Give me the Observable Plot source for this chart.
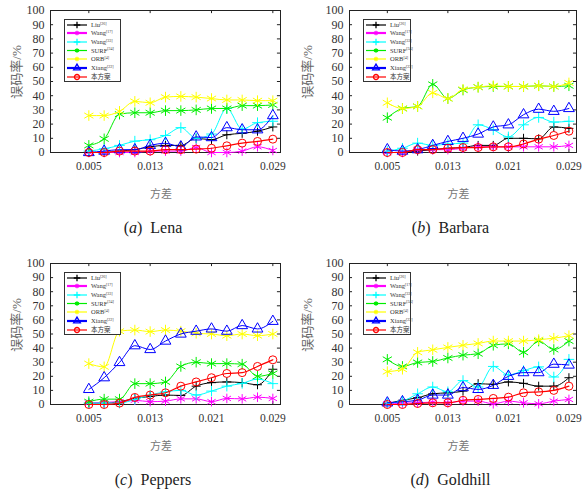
<!DOCTYPE html>
<html><head><meta charset="utf-8">
<script src="https://cdn.jsdelivr.net/npm/d3@7"></script>
<script src="https://cdn.jsdelivr.net/npm/@observablehq/plot@0.6"></script>
<style>
body{margin:0;background:#fff;}
#fig{position:relative;width:582px;height:495px;overflow:hidden;font-family:"Liberation Serif","Times New Roman",serif;}
.xlab{position:absolute;font-family:"Noto Sans CJK SC",sans-serif;font-size:11px;color:#777;transform:translate(-50%,-50%);white-space:nowrap;}
.ylab{position:absolute;font-family:"Liberation Serif","Noto Sans CJK SC",serif;font-size:13px;color:#666;transform:translate(-50%,-50%) rotate(-90deg);white-space:nowrap;}
.cap{position:absolute;font-family:"Liberation Serif",serif;font-size:16px;color:#222;transform:translate(-50%,-50%);white-space:nowrap;}
</style></head><body><div id="fig"></div>
<script>
// ---- data ----
const variance = [0.005,0.007,0.009,0.011,0.013,0.015,0.017,0.019,0.021,0.023,0.025,0.027,0.029];
const xTicks = [0.005,0.013,0.021,0.029];
const yTicks = [0,10,20,30,40,50,60,70,80,90,100];
const seriesNames = ["Liu","Wang","Wang","SURF","ORB","Xiang","本方案"];
const seriesRefs = ["[26]","[17]","[33]","[34]","[4]","[22]",""];

const lenaLiu    = [0,0,1,2,4,5,5,10,9,12.5,13.5,15,18];
const lenaWang17 = [0,0,0,0,1,1,1,3.5,0,0,1,4,1.4];
const lenaWang33 = [1,2.6,5,8,9,12,17.5,10,13,31,16.5,21,22];
const lenaSURF   = [5,9.6,27,28,28,29.5,29.5,30,31,31,33,33,33.5];
const lenaORB    = [26,26,29,36,35,39,39.5,39,38,37,37,36.5,36.5];
const lenaXiang  = [0,1,2,2,5,6.5,4,11,10.5,17.5,16,16,26];
const lenaOurs   = [0,0,1,1,1,2,2,2.4,3,4.7,6.6,7.8,9.4];

const barbLiu    = [0,0,1,2,3,3.5,5,5,10,10,9.6,18,17];
const barbWang17 = [0,0,2,2,2,3,4,4,4,4,4,4,5];
const barbWang33 = [1,3,6.6,5,6,6.6,19.5,16,11,19.5,24.7,21.4,22];
const barbSURF   = [24.5,31,32.5,48,38,44,46,46.5,46.5,46.5,47,46.5,47];
const barbORB    = [35,31,32.5,42,38,44.5,46,47,46.5,46.5,47,46.5,49];
const barbXiang  = [2,1,2,5,7.8,10,13,18,19.5,26.6,30.5,29,31];
const barbOurs   = [0,0,2,2,3,3.5,3.5,4,4,6,9.4,12,15];

const pepLiu    = [1,1,2,4.3,5.7,6.7,6.4,13,15.5,16,15.5,14,25];
const pepWang17 = [1,1.5,2,3,2,2.4,4,4,2,4.3,4,5.2,4.3];
const pepWang33 = [1,1,1,3.6,6.7,9,10,6.7,9.5,13,15,18,14.8];
const pepSURF   = [2,3.8,3.8,14.8,14.8,16,27,30,29,29,28.6,20,22];
const pepORB    = [29,26.7,52,52.8,51.7,52.8,52,50.5,50,48.8,50,48.8,50];
const pepXiang  = [10.7,19,29.8,41.7,39,45,50,52,53.6,52,56,53.6,59];
const pepOurs   = [0,0,1,5,6.7,8.3,13,16,19,22,22.6,27,31.7];

const goldLiu    = [0.7,3,4.8,7.6,8.3,9.5,14.8,14.3,16,15,13,13,19];
const goldWang17 = [0.5,1,1.2,1.7,1.2,2.4,2.4,0.5,2.4,1.2,0.5,2.4,3.6];
const goldWang33 = [1,2.4,7.6,12.4,9,17,12.4,27,21,24,26.7,19.5,32];
const goldSURF   = [32,27,29.8,30.5,33,35,36,42,43,37,45,39,45];
const goldORB    = [23.3,25,37,38.8,40.5,42,43.3,45,45,45,46,47,48.8];
const goldXiang  = [1.2,2,3,6.7,6.7,12,10.7,13.6,20,22.6,22.6,28.6,28];
const goldOurs   = [0,0,0.7,1.2,1.2,3,3.6,4.3,5.2,8.3,9,10,13];

// ---- styles ----
const styles = [
  {color:"#000000", symbol:"plus",     r:3,   lsym:16, sw:1},
  {color:"#ff00ff", symbol:"asterisk", r:4.5, lsym:14, sw:1},
  {color:"#00ffff", symbol:"plus",     r:3.5, lsym:16, sw:1},
  {color:"#00ee00", symbol:"asterisk", r:5,   lsym:14, sw:1},
  {color:"#ffff00", symbol:"asterisk", r:5,   lsym:14, sw:1},
  {color:"#0000ff", symbol:"triangle", r:4,   lsym:20, sw:1},
  {color:"#ff0000", symbol:"circle",   r:4,   lsym:20, sw:1.2}
];
const d3sym = {plus:d3.symbolPlus, asterisk:d3.symbolAsterisk, triangle:d3.symbolTriangle, circle:d3.symbolCircle};

const fig = document.getElementById("fig");

function panel(cfg){
  const {left, top, fL, fR, fT, fB, series, legendW, caption} = cfg;
  const W = 291, H = 180;
  const marks = [];
  marks.push(Plot.frame({stroke:"#222", strokeWidth:1}));
  marks.push(Plot.ruleX(xTicks, {x:d=>d, y1:0, y2:2.2, stroke:"#222"}));
  marks.push(Plot.ruleX(xTicks, {x:d=>d, y1:97.8, y2:100, stroke:"#222"}));
  marks.push(Plot.ruleY(yTicks, {y:d=>d, x1:0, x2:0.0004, stroke:"#222"}));
  marks.push(Plot.ruleY(yTicks, {y:d=>d, x1:0.0296, x2:0.03, stroke:"#222"}));
  marks.push(Plot.axisX(xTicks, {tickSize:0, tickPadding:9, tickFormat:d=>d.toFixed(3), fontSize:11.5, label:null, fill:"#333"}));
  marks.push(Plot.axisY(yTicks, {tickSize:0, tickPadding:6, fontSize:12, label:null, fill:"#333"}));
  series.forEach((vals, i) => {
    const st = styles[i];
    const rows = vals.map((v, j) => ({x: variance[j], y: v}));
    marks.push(Plot.line(rows, {x:"x", y:"y", stroke:st.color, strokeWidth:st.sw, curve:"monotone-x"}));
    marks.push(Plot.dot(rows, {x:"x", y:"y", symbol:st.symbol, r:st.r, stroke:st.color, fill:"none", strokeWidth:1}));
  });
  const svg = Plot.plot({
    width: W, height: H,
    marginLeft: fL - left, marginRight: left + W - fR,
    marginTop: fT - top, marginBottom: top + H - fB,
    x: {domain:[0,0.03]},
    y: {domain:[0,100]},
    style: {fontFamily:"Liberation Serif, Times New Roman, serif", background:"transparent", overflow:"visible"},
    marks
  });
  svg.style.position = "absolute";
  svg.style.left = left + "px";
  svg.style.top = top + "px";
  fig.appendChild(svg);

  // legend (HTML-embedded svg)
  const lx = fL + 14, ly = fT + 9, lh = 63;
  const leg = d3.create("svg").attr("width", legendW).attr("height", lh)
    .style("position","absolute").style("left", lx+"px").style("top", ly+"px").style("overflow","visible");
  leg.append("rect").attr("x",0.5).attr("y",0.5).attr("width",legendW-1).attr("height",lh-1)
    .attr("fill","#fff").attr("stroke","#333").attr("stroke-width",1);
  const rowY = [6,14,23,31.5,40,49,58];
  styles.forEach((st, i) => {
    const y = rowY[i];
    leg.append("line").attr("x1",3).attr("x2",23).attr("y1",y).attr("y2",y)
      .attr("stroke",st.color).attr("stroke-width", (i===1||i===5)?2.2:1.2);
    leg.append("path").attr("d", d3.symbol(d3sym[st.symbol], st.lsym)())
      .attr("transform",`translate(13,${y})`).attr("fill", (st.symbol==="asterisk")?st.color:"none")
      .attr("stroke",st.color).attr("stroke-width",1.3);
    const t = leg.append("text").attr("x",27).attr("y",y+2.2).attr("font-size",6.5)
      .attr("fill","#333").attr("font-family",'"Liberation Serif","Noto Sans CJK SC",serif');
    t.append("tspan").text(seriesNames[i]);
    if (seriesRefs[i]) t.append("tspan").attr("font-size",4).attr("dy",-2.5).text(seriesRefs[i]);
  });
  fig.appendChild(leg.node());

  // y label, x label, caption
  const yl = document.createElement("div");
  yl.className = "ylab"; yl.textContent = "误码率/%";
  yl.style.left = (left + 15) + "px"; yl.style.top = (fT + 62) + "px";
  fig.appendChild(yl);
  const xl = document.createElement("div");
  xl.className = "xlab"; xl.textContent = "方差";
  xl.style.left = ((fL+fR)/2 - 4) + "px"; xl.style.top = (fB + 41) + "px";
  fig.appendChild(xl);
  const cp = document.createElement("div");
  cp.className = "cap";
  cp.innerHTML = `(<i>${caption[0]}</i>)&nbsp;&nbsp;${caption[1]}`;
  cp.style.left = ((fL+fR)/2 - 12) + "px"; cp.style.top = (fB + 76) + "px";
  fig.appendChild(cp);
}

panel({left:0, top:0, fL:50, fR:280, fT:10, fB:152, legendW:57, caption:["a","Lena"],
  series:[lenaLiu,lenaWang17,lenaWang33,lenaSURF,lenaORB,lenaXiang,lenaOurs]});
panel({left:291, top:0, fL:349, fR:576, fT:10, fB:152, legendW:48, caption:["b","Barbara"],
  series:[barbLiu,barbWang17,barbWang33,barbSURF,barbORB,barbXiang,barbOurs]});
panel({left:0, top:253, fL:50, fR:280, fT:263, fB:404, legendW:57, caption:["c","Peppers"],
  series:[pepLiu,pepWang17,pepWang33,pepSURF,pepORB,pepXiang,pepOurs]});
panel({left:291, top:253, fL:349, fR:576, fT:263, fB:404, legendW:48, caption:["d","Goldhill"],
  series:[goldLiu,goldWang17,goldWang33,goldSURF,goldORB,goldXiang,goldOurs]});
</script></body></html>
